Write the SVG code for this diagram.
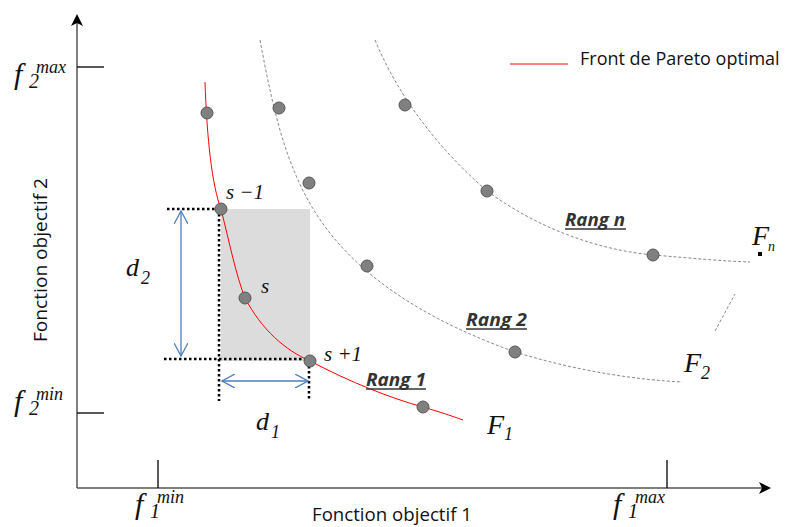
<svg xmlns="http://www.w3.org/2000/svg" width="788" height="527" viewBox="0 0 788 527">
<style>
.ax{stroke:#555;stroke-width:1.5;fill:none}
.tk{stroke:#000;stroke-width:1.3}
.m{font-family:"Liberation Serif",serif;font-style:italic;fill:#111}
.lbl{font-family:"Open Sans","Liberation Sans",sans-serif;font-size:19px;fill:#111}
.rang{font-family:"Open Sans","Liberation Sans",sans-serif;font-size:17px;font-weight:bold;font-style:italic;fill:#333}
.ul{stroke:#333;stroke-width:1.5}
.dot{fill:#808080;stroke:#555;stroke-width:1}
.front{fill:none;stroke:#f00;stroke-width:1}
.dash{fill:none;stroke:#888;stroke-width:1;stroke-dasharray:3 2}
.dotted{stroke:#000;stroke-width:2.5;stroke-dasharray:2.5 2.5}
.blue{stroke:#4a7ebf;stroke-width:1.3;fill:none}
</style>
<defs>
<marker id="ah" markerWidth="12" markerHeight="12" refX="10" refY="6" orient="auto" markerUnits="userSpaceOnUse">
<path d="M0,0 L12,6 L0,12 L3,6 Z" fill="#000"/>
</marker>
<marker id="ob" markerWidth="14" markerHeight="14" refX="13" refY="7" orient="auto-start-reverse" markerUnits="userSpaceOnUse">
<path d="M0,0 L13,7 L0,14" fill="none" stroke="#4a7ebf" stroke-width="1.3"/>
</marker>
</defs>
<rect width="788" height="527" fill="#fff"/>
<g id="axes">
<line class="ax" x1="77" y1="488" x2="77" y2="16" marker-end="url(#ah)"/>
<line class="ax" x1="77" y1="488" x2="769" y2="488" marker-end="url(#ah)"/>
<line class="tk" x1="77" y1="67" x2="104" y2="67"/>
<line class="tk" x1="77" y1="413" x2="104" y2="413"/>
<line class="tk" x1="158" y1="460" x2="158" y2="488"/>
<line class="tk" x1="667" y1="460" x2="667" y2="488"/>
</g>
<g id="axis-labels">
<text class="m" x="14" y="84" font-size="30">f</text><text class="m" x="29" y="88" font-size="20">2</text><text class="m" x="36" y="73" font-size="18">max</text>
<text class="m" x="14" y="411" font-size="30">f</text><text class="m" x="29" y="415" font-size="20">2</text><text class="m" x="36" y="400" font-size="18">min</text>
<text class="m" x="135" y="514" font-size="30">f</text><text class="m" x="150" y="518" font-size="20">1</text><text class="m" x="157" y="503" font-size="18">min</text>
<text class="m" x="613" y="514" font-size="30">f</text><text class="m" x="628" y="518" font-size="20">1</text><text class="m" x="635" y="503" font-size="18">max</text>
<text class="lbl" x="312" y="521" textLength="160" lengthAdjust="spacingAndGlyphs">Fonction objectif 1</text>
<text class="lbl" transform="translate(47,342) rotate(-90)" textLength="164" lengthAdjust="spacingAndGlyphs">Fonction objectif 2</text>
</g>
<g id="legend">
<line x1="510" y1="64" x2="568" y2="64" stroke="#f00" stroke-width="1"/>
<text class="lbl" x="580" y="65" font-size="18" style="font-size:18px">Front de Pareto optimal</text>
</g>
<g id="box">
<rect x="221" y="209" width="89" height="152" fill="#dcdcdc"/>
</g>
<g id="connectors">
<path class="dash" d="M260,40 C275,120 290,190 340,245 C380,290 440,325 515,352 C580,372 640,380 682,382"/>
<path class="dash" d="M375,40 C400,100 440,150 487,191 C540,230 600,250 653,255 C690,258 720,261 750,262"/>
<line class="dash" x1="715" y1="331" x2="735" y2="294"/>
<path class="front" d="M205,82 C207,140 212,185 221,209 C230,245 236,275 245,298 C262,330 285,350 310,361 C350,382 390,398 423,407 C440,412 452,416 463,420"/>
<line class="dotted" x1="167" y1="209" x2="221" y2="209"/>
<line class="dotted" x1="164" y1="359" x2="310" y2="359"/>
<line class="dotted" x1="219" y1="209" x2="219" y2="401"/>
<line class="dotted" x1="309" y1="361" x2="309" y2="401"/>
<line class="blue" x1="181" y1="211" x2="181" y2="356" marker-start="url(#ob)" marker-end="url(#ob)"/>
<line class="blue" x1="222" y1="381" x2="308" y2="381" marker-start="url(#ob)" marker-end="url(#ob)"/>
</g>
<g id="rank1">
<circle class="dot" cx="207" cy="113" r="6"/>
<circle class="dot" cx="221" cy="209" r="6"/>
<circle class="dot" cx="245" cy="298" r="6"/>
<circle class="dot" cx="310" cy="361" r="6"/>
<circle class="dot" cx="423" cy="407" r="6"/>
<text class="rang" x="366" y="386" textLength="60" lengthAdjust="spacingAndGlyphs">Rang 1</text>
<line class="ul" x1="366" y1="389" x2="426" y2="389"/>
</g>
<g id="rank2">
<circle class="dot" cx="279" cy="108" r="6"/>
<circle class="dot" cx="309" cy="183" r="6"/>
<circle class="dot" cx="367" cy="266" r="6"/>
<circle class="dot" cx="515" cy="352" r="6"/>
<text class="rang" x="466" y="326" textLength="61" lengthAdjust="spacingAndGlyphs">Rang 2</text>
<line class="ul" x1="466" y1="329" x2="527" y2="329"/>
</g>
<g id="rankn">
<circle class="dot" cx="405" cy="105" r="6"/>
<circle class="dot" cx="487" cy="191" r="6"/>
<circle class="dot" cx="653" cy="255" r="6"/>
<text class="rang" x="565" y="226" textLength="60" lengthAdjust="spacingAndGlyphs">Rang n</text>
<line class="ul" x1="565" y1="229" x2="626" y2="229"/>
</g>
<g id="labels">
<text class="m" x="226" y="199" font-size="21">s −1</text>
<text class="m" x="261" y="293" font-size="21">s</text>
<text class="m" x="324" y="361" font-size="21">s +1</text>
<text class="m" x="126" y="276" font-size="26">d</text><text class="m" x="141" y="284" font-size="18">2</text>
<text class="m" x="256" y="430" font-size="26">d</text><text class="m" x="271" y="438" font-size="18">1</text>
<text class="m" x="487" y="434" font-size="28">F</text><text class="m" x="504" y="440" font-size="18">1</text>
<text class="m" x="684" y="372" font-size="28">F</text><text class="m" x="701" y="379" font-size="18">2</text>
<text class="m" x="752" y="245" font-size="28">F</text><text class="m" x="768" y="251" font-size="14">n</text>
<rect x="758" y="252" width="4" height="4" fill="#000"/>
</g>
</svg>
